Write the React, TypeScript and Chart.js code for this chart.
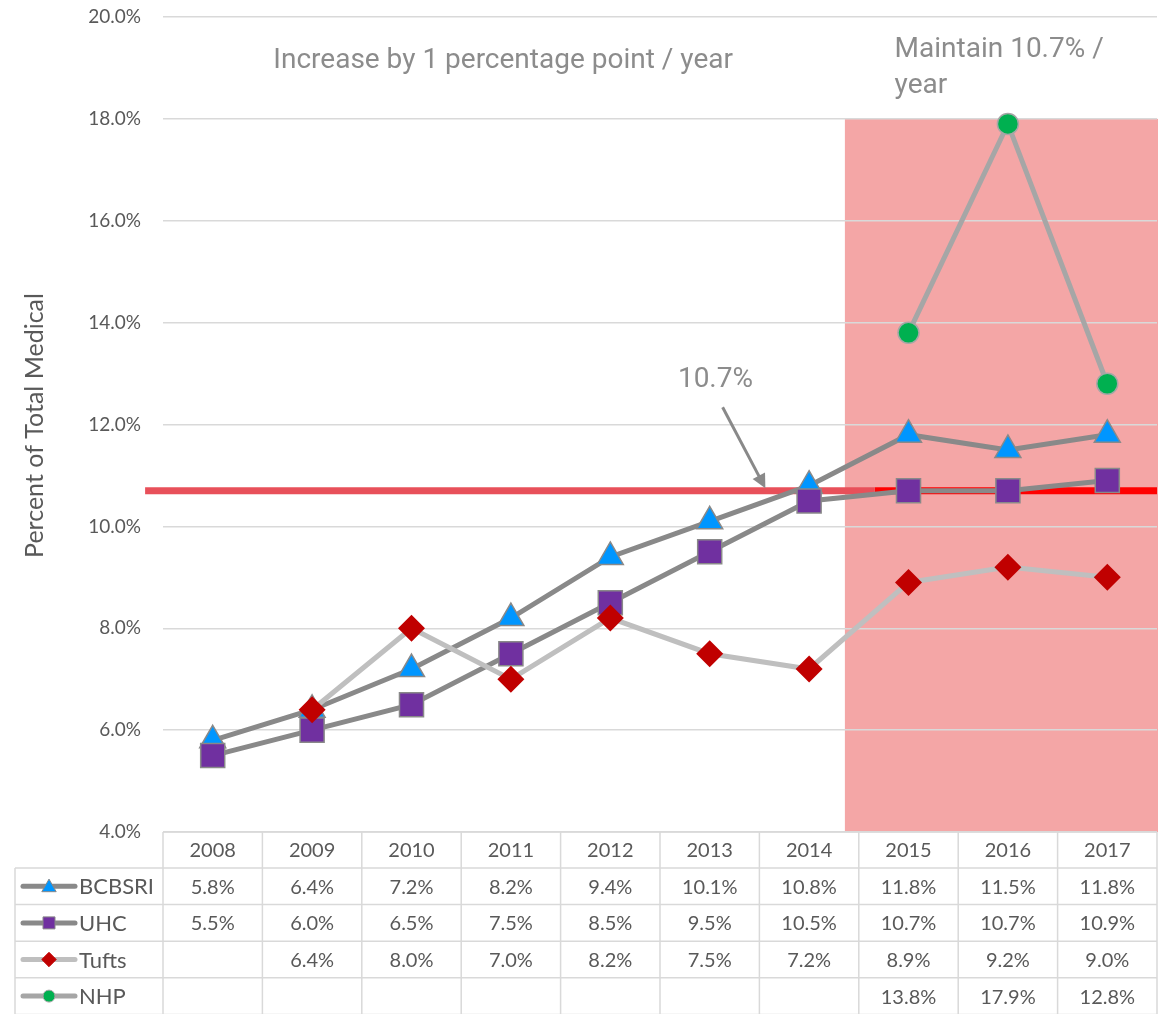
import React, { useEffect, useRef } from "react";
import { Chart, registerables } from "chart.js";

Chart.register(...registerables);

const years = ["2008", "2009", "2010", "2011", "2012", "2013", "2014", "2015", "2016", "2017"];
const bcbsri = [5.8, 6.4, 7.2, 8.2, 9.4, 10.1, 10.8, 11.8, 11.5, 11.8];
const uhc = [5.5, 6.0, 6.5, 7.5, 8.5, 9.5, 10.5, 10.7, 10.7, 10.9];
const tufts = [null, 6.4, 8.0, 7.0, 8.2, 7.5, 7.2, 8.9, 9.2, 9.0];
const nhp = [null, null, null, null, null, null, null, 13.8, 17.9, 12.8];
const seriesNames = ["BCBSRI", "UHC", "Tufts", "NHP"];
const yTicks = [4, 6, 8, 10, 12, 14, 16, 18, 20];
const targetValue = 10.7;
const maintainStartYearIndex = 6.36;
const maintainTopValue = 18;

const FONT = "Lato, 'DejaVu Sans', sans-serif";
const ANN_FONT = "Roboto, 'Liberation Sans', sans-serif";
const TEXT = "#595959";
const ANN = "#8c8c8c";
const GRID = "#d9d9d9";

type Style = { line: string; fill: string; border: string; shape: string };
const styles: Style[] = [
  { line: "#898989", fill: "#0096FF", border: "#898989", shape: "triangle" },
  { line: "#898989", fill: "#7030A0", border: "#898989", shape: "rect" },
  { line: "#BFBFBF", fill: "#C00000", border: "#C00000", shape: "rectRot" },
  { line: "#A6A6A6", fill: "#00B050", border: "#A6A6A6", shape: "circle" },
];

function drawMarker(ctx: CanvasRenderingContext2D, shape: string, x: number, y: number, s: number) {
  ctx.beginPath();
  if (shape === "triangle") {
    const w = s * 0.6;
    ctx.moveTo(x, y - s * 0.6);
    ctx.lineTo(x + w, y + s * 0.45);
    ctx.lineTo(x - w, y + s * 0.45);
    ctx.closePath();
  } else if (shape === "rect") {
    ctx.rect(x - s / 2, y - s / 2, s, s);
  } else if (shape === "rectRot") {
    const r = s * 0.6;
    ctx.moveTo(x, y - r);
    ctx.lineTo(x + r, y);
    ctx.lineTo(x, y + r);
    ctx.lineTo(x - r, y);
    ctx.closePath();
  } else {
    ctx.arc(x, y, s / 2, 0, Math.PI * 2);
  }
  ctx.fill();
  ctx.stroke();
}

const overlayPlugin = {
  id: "overlay",
  beforeDraw(chart: any) {
    const { ctx, chartArea, scales } = chart;
    const x = scales.x;
    const y = scales.y;
    ctx.save();
    ctx.fillStyle = "#F4A6A6";
    const x0 = x.getPixelForValue(maintainStartYearIndex);
    const yTop = y.getPixelForValue(maintainTopValue);
    ctx.fillRect(x0, yTop, chartArea.right - x0 + 1, chartArea.bottom - yTop);
    ctx.restore();
  },
  beforeDatasetsDraw(chart: any) {
    const { ctx, chartArea, scales } = chart;
    const x = scales.x;
    const y = scales.y;
    const yy = y.getPixelForValue(targetValue);
    ctx.save();
    ctx.lineWidth = 7;
    ctx.strokeStyle = "#FF0000";
    ctx.beginPath();
    ctx.moveTo(x.getPixelForValue(6.66), yy);
    ctx.lineTo(chartArea.right, yy);
    ctx.stroke();
    ctx.strokeStyle = "#E8505A";
    ctx.beginPath();
    ctx.moveTo(x.getPixelForValue(-0.68), yy);
    ctx.lineTo(x.getPixelForValue(6.66), yy);
    ctx.stroke();
    ctx.restore();
  },
  afterDraw(chart: any) {
    const { ctx, chartArea, scales } = chart;
    const x = scales.x;
    const y = scales.y;
    ctx.save();
    // annotations
    ctx.fillStyle = ANN;
    ctx.font = `28px ${ANN_FONT}`;
    ctx.textBaseline = "middle";
    ctx.textAlign = "left";
    ctx.fillText("Increase by 1 percentage point / year", x.getPixelForValue(0.61), y.getPixelForValue(19.13));
    ctx.fillText("Maintain 10.7% /", x.getPixelForValue(6.86), y.getPixelForValue(19.35));
    ctx.fillText("year", x.getPixelForValue(6.86), y.getPixelForValue(18.65));
    ctx.fillText("10.7%", x.getPixelForValue(4.68), y.getPixelForValue(12.87));
    // arrow
    const ax0 = x.getPixelForValue(5.13), ay0 = y.getPixelForValue(12.34);
    const ax1 = x.getPixelForValue(5.56), ay1 = y.getPixelForValue(10.75);
    const ang = Math.atan2(ay1 - ay0, ax1 - ax0);
    ctx.strokeStyle = "#898989";
    ctx.fillStyle = "#898989";
    ctx.lineWidth = 3;
    ctx.beginPath();
    ctx.moveTo(ax0, ay0);
    ctx.lineTo(ax1 - Math.cos(ang) * 10, ay1 - Math.sin(ang) * 10);
    ctx.stroke();
    ctx.beginPath();
    ctx.moveTo(ax1, ay1);
    ctx.lineTo(ax1 - Math.cos(ang) * 14 + Math.sin(ang) * 7, ay1 - Math.sin(ang) * 14 - Math.cos(ang) * 7);
    ctx.lineTo(ax1 - Math.cos(ang) * 14 - Math.sin(ang) * 7, ay1 - Math.sin(ang) * 14 + Math.cos(ang) * 7);
    ctx.closePath();
    ctx.fill();

    // y title
    ctx.save();
    ctx.translate(35, (chartArea.top + chartArea.bottom) / 2 + 1);
    ctx.rotate(-Math.PI / 2);
    ctx.fillStyle = TEXT;
    ctx.font = `25px ${FONT}`;
    ctx.textAlign = "center";
    ctx.textBaseline = "middle";
    ctx.fillText("Percent of Total Medical", 0, 0);
    ctx.restore();

    // data table
    const top = chartArea.bottom;
    const headerH = 36;
    const rowH = 36.6;
    const left = 15;
    const n = years.length;
    const colEdge = (i: number) => x.getPixelForValue(i - 0.5);
    const tableRight = colEdge(n);
    const rowsTop = top + headerH;
    const bottom = rowsTop + rowH * 4;
    ctx.strokeStyle = GRID;
    ctx.lineWidth = 1.5;
    ctx.beginPath();
    ctx.moveTo(colEdge(0), top);
    ctx.lineTo(tableRight, top);
    for (let r = 0; r <= 4; r++) {
      ctx.moveTo(left, rowsTop + r * rowH);
      ctx.lineTo(tableRight, rowsTop + r * rowH);
    }
    for (let i = 0; i <= n; i++) {
      ctx.moveTo(colEdge(i), top);
      ctx.lineTo(colEdge(i), bottom);
    }
    ctx.moveTo(left, rowsTop);
    ctx.lineTo(left, bottom);
    ctx.stroke();

    ctx.fillStyle = TEXT;
    ctx.font = `20px ${FONT}`;
    ctx.textAlign = "center";
    ctx.textBaseline = "middle";
    years.forEach((yr, i) => ctx.fillText(yr, x.getPixelForValue(i), top + headerH / 2 + 1));
    const all = [bcbsri, uhc, tufts, nhp];
    all.forEach((arr, r) => {
      const cy = rowsTop + r * rowH + rowH / 2 + 1;
      ctx.font = `20px ${FONT}`;
      arr.forEach((v, i) => {
        if (v === null) return;
        ctx.fillStyle = TEXT;
        ctx.fillText(v.toFixed(1) + "%", x.getPixelForValue(i), cy);
      });
      const st = styles[r];
      ctx.strokeStyle = st.line;
      ctx.lineWidth = 5;
      ctx.lineCap = "round";
      ctx.beginPath();
      ctx.moveTo(23, cy - 1);
      ctx.lineTo(75, cy - 1);
      ctx.stroke();
      ctx.lineCap = "butt";
      ctx.fillStyle = st.fill;
      ctx.strokeStyle = st.border;
      ctx.lineWidth = 1;
      drawMarker(ctx, st.shape, 49, cy - 1, 12);
      ctx.fillStyle = TEXT;
      ctx.textAlign = "left";
      ctx.font = `22px ${FONT}`;
      ctx.fillText(seriesNames[r], 79, cy);
      ctx.textAlign = "center";
    });
    ctx.restore();
  },
};

export default function App() {
  const ref = useRef<HTMLCanvasElement>(null);
  useEffect(() => {
    document.body.style.margin = "0";
    const canvas = ref.current!;
    const all = [bcbsri, uhc, tufts, nhp];
    const radii = [15, 17, 13.5, 10.5];
    const orders = [2, 1, 0, 0];
    const chart = new Chart(canvas, {
      type: "line",
      data: {
        labels: years,
        datasets: all.map((arr, i) => ({
          label: seriesNames[i],
          data: arr,
          borderColor: styles[i].line,
          borderWidth: 5,
          backgroundColor: styles[i].fill,
          pointBackgroundColor: styles[i].fill,
          pointBorderColor: styles[i].border,
          pointBorderWidth: i === 2 ? 0 : 1.5,
          pointStyle: styles[i].shape as any,
          pointRadius: radii[i],
          tension: 0,
          spanGaps: false,
          order: orders[i],
        })),
      },
      options: {
        responsive: false,
        animation: false,
        layout: { autoPadding: false, padding: { left: 0, right: 9, top: 17, bottom: 182 } },
        plugins: { legend: { display: false }, tooltip: { enabled: false } },
        scales: {
          x: { type: "category", offset: true, display: false },
          y: {
            min: 4,
            max: 20,
            afterFit: (s: any) => {
              s.width = 163;
              s.paddingTop = 0;
              s.paddingBottom = 0;
            },
            afterBuildTicks: (s: any) => {
              s.ticks = yTicks.map((v) => ({ value: v }));
            },
            border: { display: false },
            grid: { color: GRID, lineWidth: 1.5, drawTicks: false },
            ticks: {
              padding: 22,
              color: TEXT,
              font: { family: FONT, size: 19 },
              callback: (v: any) => Number(v).toFixed(1) + "%",
            },
          },
        },
      },
      plugins: [overlayPlugin],
    });
    return () => chart.destroy();
  }, []);
  return <canvas ref={ref} width={1166} height={1014} style={{ display: "block" }} />;
}
